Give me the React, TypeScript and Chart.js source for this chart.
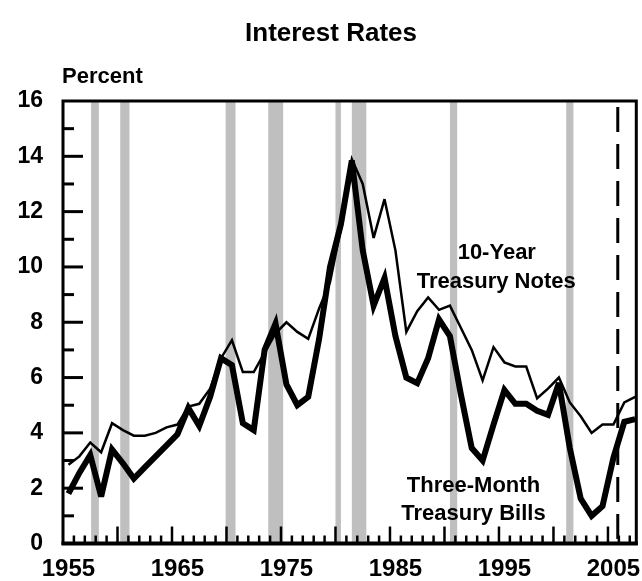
import { useEffect, useRef } from "react";
import { Chart, registerables } from "chart.js";

Chart.register(...registerables);

const years = [
  1955, 1956, 1957, 1958, 1959, 1960, 1961, 1962, 1963, 1964,
  1965, 1966, 1967, 1968, 1969, 1970, 1971, 1972, 1973, 1974,
  1975, 1976, 1977, 1978, 1979, 1980, 1981, 1982, 1983, 1984,
  1985, 1986, 1987, 1988, 1989, 1990, 1991, 1992, 1993, 1994,
  1995, 1996, 1997, 1998, 1999, 2000, 2001, 2002, 2003, 2004,
  2005, 2006, 2007,
];

const treasuryNotes10Y = [
  2.85, 3.15, 3.65, 3.3, 4.35, 4.1, 3.9, 3.9, 4.0, 4.2,
  4.3, 4.95, 5.05, 5.6, 6.7, 7.35, 6.2, 6.2, 6.9, 7.6,
  8.0, 7.65, 7.4, 8.5, 9.45, 11.4, 13.9, 13.0, 11.05, 12.45,
  10.6, 7.65, 8.4, 8.9, 8.45, 8.6, 7.8, 7.0, 5.9, 7.1,
  6.55, 6.4, 6.4, 5.25, 5.6, 6.0, 5.1, 4.6, 4.0, 4.3,
  4.3, 5.1, 5.3,
];

const treasuryBills3M = [
  1.8, 2.55, 3.2, 1.7, 3.4, 2.9, 2.35, 2.75, 3.15, 3.55,
  3.95, 4.9, 4.25, 5.3, 6.7, 6.45, 4.35, 4.1, 7.0, 7.95,
  5.75, 5.0, 5.3, 7.4, 10.0, 11.55, 13.85, 10.6, 8.6, 9.6,
  7.5, 6.0, 5.8, 6.7, 8.1, 7.5, 5.4, 3.45, 3.0, 4.3,
  5.55, 5.05, 5.05, 4.8, 4.65, 5.8, 3.45, 1.62, 1.0, 1.35,
  3.1, 4.4, 4.5,
];

// Recession periods (start, end) in fractional years
const recessionStarts = [1957.58, 1960.25, 1969.92, 1973.83, 1980.0, 1981.5, 1990.5, 2001.17];
const recessionEnds = [1958.29, 1961.1, 1970.83, 1975.2, 1980.5, 1982.83, 1991.17, 2001.83];

const xLabelYears = [1955, 1965, 1975, 1985, 1995, 2005];
const projectionStart = 2005.9;

const FONT = '"Liberation Sans", Arial, sans-serif';

export default function App() {
  const ref = useRef<HTMLCanvasElement>(null);

  useEffect(() => {
    document.body.style.margin = "0";
    const canvas = ref.current;
    if (!canvas) return;

    const decor = {
      id: "decor",
      beforeDatasetsDraw(chart: any) {
        const { ctx, chartArea: a, scales } = chart;
        const x = scales.x;
        ctx.save();
        ctx.fillStyle = "#bfbfbf";
        for (let i = 0; i < recessionStarts.length; i++) {
          const x0 = x.getPixelForValue(recessionStarts[i]);
          const x1 = x.getPixelForValue(recessionEnds[i]);
          ctx.fillRect(x0, a.top, x1 - x0, a.bottom - a.top);
        }
        ctx.restore();
      },
      beforeDatasetDraw(chart: any) {
        chart.ctx.miterLimit = 4;
      },
      afterDatasetsDraw(chart: any) {
        const { ctx, chartArea: a, scales } = chart;
        const x = scales.x;
        const y = scales.y;
        ctx.save();
        ctx.strokeStyle = "#000";
        ctx.lineCap = "butt";

        // y ticks (inward)
        ctx.lineWidth = 3;
        for (let v = 1; v < 16; v++) {
          const py = y.getPixelForValue(v);
          const len = v % 2 === 0 ? 20 : 11;
          ctx.beginPath();
          ctx.moveTo(a.left, py);
          ctx.lineTo(a.left + len, py);
          ctx.stroke();
        }

        // x ticks (inward)
        ctx.lineWidth = 2.5;
        for (let yr = 1956; yr <= 2007; yr++) {
          const px = x.getPixelForValue(yr);
          const len = yr % 5 === 0 ? 17 : 8;
          ctx.beginPath();
          ctx.moveTo(px, a.bottom);
          ctx.lineTo(px, a.bottom - len);
          ctx.stroke();
        }

        // dashed projection line
        const dx = x.getPixelForValue(projectionStart);
        ctx.lineWidth = 3;
        ctx.setLineDash([25, 12]);
        ctx.beginPath();
        ctx.moveTo(dx, a.top + 6);
        ctx.lineTo(dx, a.bottom);
        ctx.stroke();
        ctx.setLineDash([]);

        // frame
        ctx.lineWidth = 3;
        ctx.strokeRect(a.left, a.top, a.right - a.left, a.bottom - a.top);
        ctx.lineWidth = 4;
        ctx.beginPath();
        ctx.moveTo(a.left - 1.5, a.bottom);
        ctx.lineTo(a.right + 1.5, a.bottom);
        ctx.stroke();

        // series labels
        ctx.fillStyle = "#000";
        ctx.font = `bold 22px ${FONT}`;
        ctx.textAlign = "center";
        ctx.textBaseline = "alphabetic";
        const lbl = (t: string, xv: number, yv: number) =>
          ctx.fillText(t, x.getPixelForValue(xv), y.getPixelForValue(yv));
        lbl("10-Year", 1994.8, 10.29);
        lbl("Treasury Notes", 1994.75, 9.24);
        lbl("Three-Month", 1992.66, 1.88);
        lbl("Treasury Bills", 1992.66, 0.85);
        ctx.restore();
      },
      afterDraw(chart: any) {
        const { ctx } = chart;
        ctx.save();
        ctx.fillStyle = "#000";
        ctx.textBaseline = "alphabetic";
        ctx.font = `bold 26px ${FONT}`;
        ctx.textAlign = "center";
        ctx.fillText("Interest Rates", 331, 41);
        ctx.font = `bold 22px ${FONT}`;
        ctx.textAlign = "left";
        ctx.fillText("Percent", 62, 83);
        ctx.restore();
      },
    };

    const chart = new Chart(canvas, {
      type: "line",
      data: {
        datasets: [
          {
            label: "Three-Month Treasury Bills",
            data: years.map((yr, i) => ({ x: yr + 0.5, y: treasuryBills3M[i] })),
            borderColor: "#000",
            borderWidth: 6,
            pointRadius: 0,
            tension: 0,
            fill: false,
          },
          {
            label: "10-Year Treasury Notes",
            data: years.map((yr, i) => ({ x: yr + 0.5, y: treasuryNotes10Y[i] })),
            borderColor: "#000",
            borderWidth: 2.5,
            pointRadius: 0,
            tension: 0,
            fill: false,
          },
        ],
      },
      options: {
        animation: false,
        responsive: false,
        devicePixelRatio: 1,
        layout: {
          autoPadding: false,
          padding: { left: 0, right: 5.7, top: 101, bottom: 0 },
        },
        plugins: {
          legend: { display: false },
          title: { display: false },
          tooltip: { enabled: false },
        },
        scales: {
          x: {
            type: "linear",
            min: 1955,
            max: 2007.6,
            grid: { display: false, drawTicks: false },
            border: { display: false },
            ticks: {
              autoSkip: false,
              maxRotation: 0,
              minRotation: 0,
              padding: 11,
              color: "#000",
              font: { family: FONT, size: 24, weight: "bold" },
              callback: (v: any) => String(Math.round(Number(v) - 0.5)),
            },
            afterBuildTicks: (s: any) => {
              s.ticks = xLabelYears.map((yr) => ({ value: yr + 0.5 }));
            },
            afterFit: (s: any) => {
              s.height = 37.5;
              s.paddingLeft = 0;
              s.paddingRight = 0;
              s.paddingTop = 0;
              s.paddingBottom = 0;
            },
          },
          y: {
            type: "linear",
            min: 0,
            max: 16,
            grid: { display: false, drawTicks: false },
            border: { display: false },
            ticks: {
              stepSize: 2,
              padding: 20,
              color: "#000",
              font: { family: FONT, size: 23, weight: "bold" },
            },
            afterFit: (s: any) => {
              s.width = 63;
              s.paddingLeft = 0;
              s.paddingRight = 0;
              s.paddingTop = 0;
              s.paddingBottom = 0;
            },
          },
        },
      } as any,
      plugins: [decor],
    });

    return () => chart.destroy();
  }, []);

  return <canvas ref={ref} width={642} height={581} style={{ display: "block" }} />;
}
